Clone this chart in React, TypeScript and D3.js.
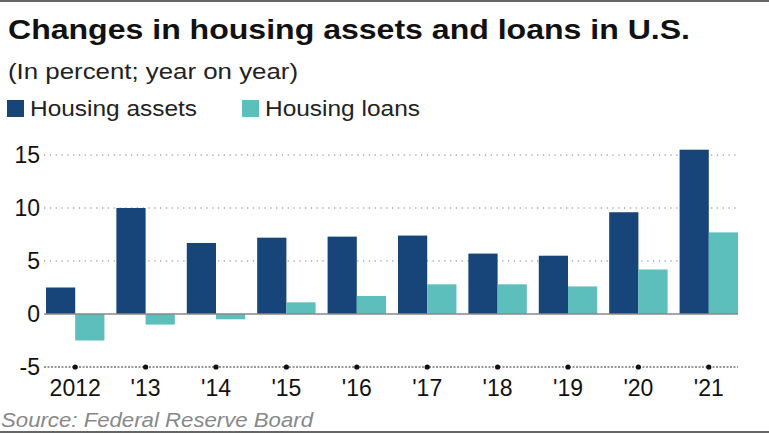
import React, { useEffect, useRef } from 'react';
import * as d3 from 'd3';

const years = ['2012', "'13", "'14", "'15", "'16", "'17", "'18", "'19", "'20", "'21"];
const housingAssets = [2.5, 10.0, 6.7, 7.2, 7.3, 7.4, 5.7, 5.5, 9.6, 15.5];
const housingLoans = [-2.5, -1.0, -0.5, 1.1, 1.7, 2.8, 2.8, 2.6, 4.2, 7.7];
const yTicks = [15, 10, 5, 0, -5];
const seriesNames = ['Housing assets', 'Housing loans'];
const colors = ['#17457a', '#5cbfbc'];

const FONT = '"Liberation Sans", Arial, sans-serif';

const App: React.FC = () => {
  const ref = useRef<SVGSVGElement | null>(null);

  useEffect(() => {
    if (!ref.current) return;
    const svg = d3.select(ref.current);
    svg.selectAll('*').remove();

    const width = 769;

    // frame lines
    svg.append('rect').attr('x', 0).attr('y', 0).attr('width', width).attr('height', 2).attr('fill', '#666');
    svg.append('rect').attr('x', 0).attr('y', 431).attr('width', width).attr('height', 2).attr('fill', '#666');

    // title & subtitle (text is stretched a bit wider in the original)
    svg
      .append('text')
      .attr('x', 8)
      .attr('y', 39)
      .attr('font-family', FONT)
      .attr('font-size', 28)
      .attr('font-weight', 'bold')
      .attr('fill', '#111')
      .attr('textLength', 682)
      .attr('lengthAdjust', 'spacingAndGlyphs')
      .text('Changes in housing assets and loans in U.S.');

    svg
      .append('text')
      .attr('x', 8)
      .attr('y', 79)
      .attr('font-family', FONT)
      .attr('font-size', 22)
      .attr('fill', '#222')
      .attr('textLength', 290)
      .attr('lengthAdjust', 'spacingAndGlyphs')
      .text('(In percent; year on year)');

    // legend
    const legendX = [7, 242];
    const legendLen = [167, 155];
    seriesNames.forEach((name, i) => {
      svg
        .append('rect')
        .attr('x', legendX[i])
        .attr('y', 100)
        .attr('width', 17)
        .attr('height', 17)
        .attr('fill', colors[i]);
      svg
        .append('text')
        .attr('x', legendX[i] + 23)
        .attr('y', 116)
        .attr('font-family', FONT)
        .attr('font-size', 22)
        .attr('fill', '#222')
        .attr('textLength', legendLen[i])
        .attr('lengthAdjust', 'spacingAndGlyphs')
        .text(name);
    });

    const x = d3.scaleBand<string>().domain(years).range([40, 744]).paddingInner(0.17).paddingOuter(0.085);
    const x1 = d3.scaleBand<number>().domain([0, 1]).range([0, x.bandwidth()]);
    const y = d3.scaleLinear().domain([-5, 15]).range([367, 155]);

    const gridLeft = 44;
    const gridRight = (x(years[years.length - 1]) ?? 0) + x.bandwidth();

    // gridlines
    yTicks
      .filter((t) => t > 0)
      .forEach((t) => {
        svg
          .append('line')
          .attr('x1', gridLeft)
          .attr('x2', gridRight)
          .attr('y1', y(t))
          .attr('y2', y(t))
          .attr('stroke', '#aaa')
          .attr('stroke-width', 1.3)
          .attr('stroke-dasharray', '1.3,4.5');
      });

    // y labels
    yTicks.forEach((t) => {
      svg
        .append('text')
        .attr('x', 40)
        .attr('y', y(t))
        .attr('dy', '0.36em')
        .attr('text-anchor', 'end')
        .attr('font-family', FONT)
        .attr('font-size', 23)
        .attr('fill', '#111')
        .text(t);
    });

    // bars
    const series = [housingAssets, housingLoans];
    series.forEach((vals, si) => {
      svg
        .append('g')
        .selectAll('rect')
        .data(vals)
        .enter()
        .append('rect')
        .attr('x', (_, i) => (x(years[i]) ?? 0) + (x1(si) ?? 0))
        .attr('width', x1.bandwidth())
        .attr('y', (d) => y(Math.max(0, d)))
        .attr('height', (d) => Math.abs(y(d) - y(0)))
        .attr('fill', colors[si]);
    });

    // zero line
    svg
      .append('line')
      .attr('x1', gridLeft)
      .attr('x2', gridRight)
      .attr('y1', y(0))
      .attr('y2', y(0))
      .attr('stroke', '#888')
      .attr('stroke-width', 1.5);

    // bottom axis (-5)
    svg
      .append('line')
      .attr('x1', gridLeft)
      .attr('x2', gridRight)
      .attr('y1', y(-5))
      .attr('y2', y(-5))
      .attr('stroke', '#777')
      .attr('stroke-width', 1.3)
      .attr('stroke-dasharray', '2,1.5');

    years.forEach((yr) => {
      const cx = (x(yr) ?? 0) + x.bandwidth() / 2;
      svg.append('circle').attr('cx', cx).attr('cy', y(-5)).attr('r', 2.6).attr('fill', '#111');
      svg
        .append('text')
        .attr('x', cx)
        .attr('y', 396)
        .attr('text-anchor', 'middle')
        .attr('font-family', FONT)
        .attr('font-size', 23)
        .attr('fill', '#111')
        .text(yr);
    });

    // source
    svg
      .append('text')
      .attr('x', 1)
      .attr('y', 427)
      .attr('font-family', FONT)
      .attr('font-size', 21)
      .attr('font-style', 'italic')
      .attr('fill', '#888')
      .attr('textLength', 312)
      .attr('lengthAdjust', 'spacingAndGlyphs')
      .text('Source: Federal Reserve Board');
  }, []);

  return (
    <svg
      ref={ref}
      width={769}
      height={434}
      style={{ position: 'absolute', left: 0, top: 0, background: '#fff', display: 'block' }}
    />
  );
};

export default App;
